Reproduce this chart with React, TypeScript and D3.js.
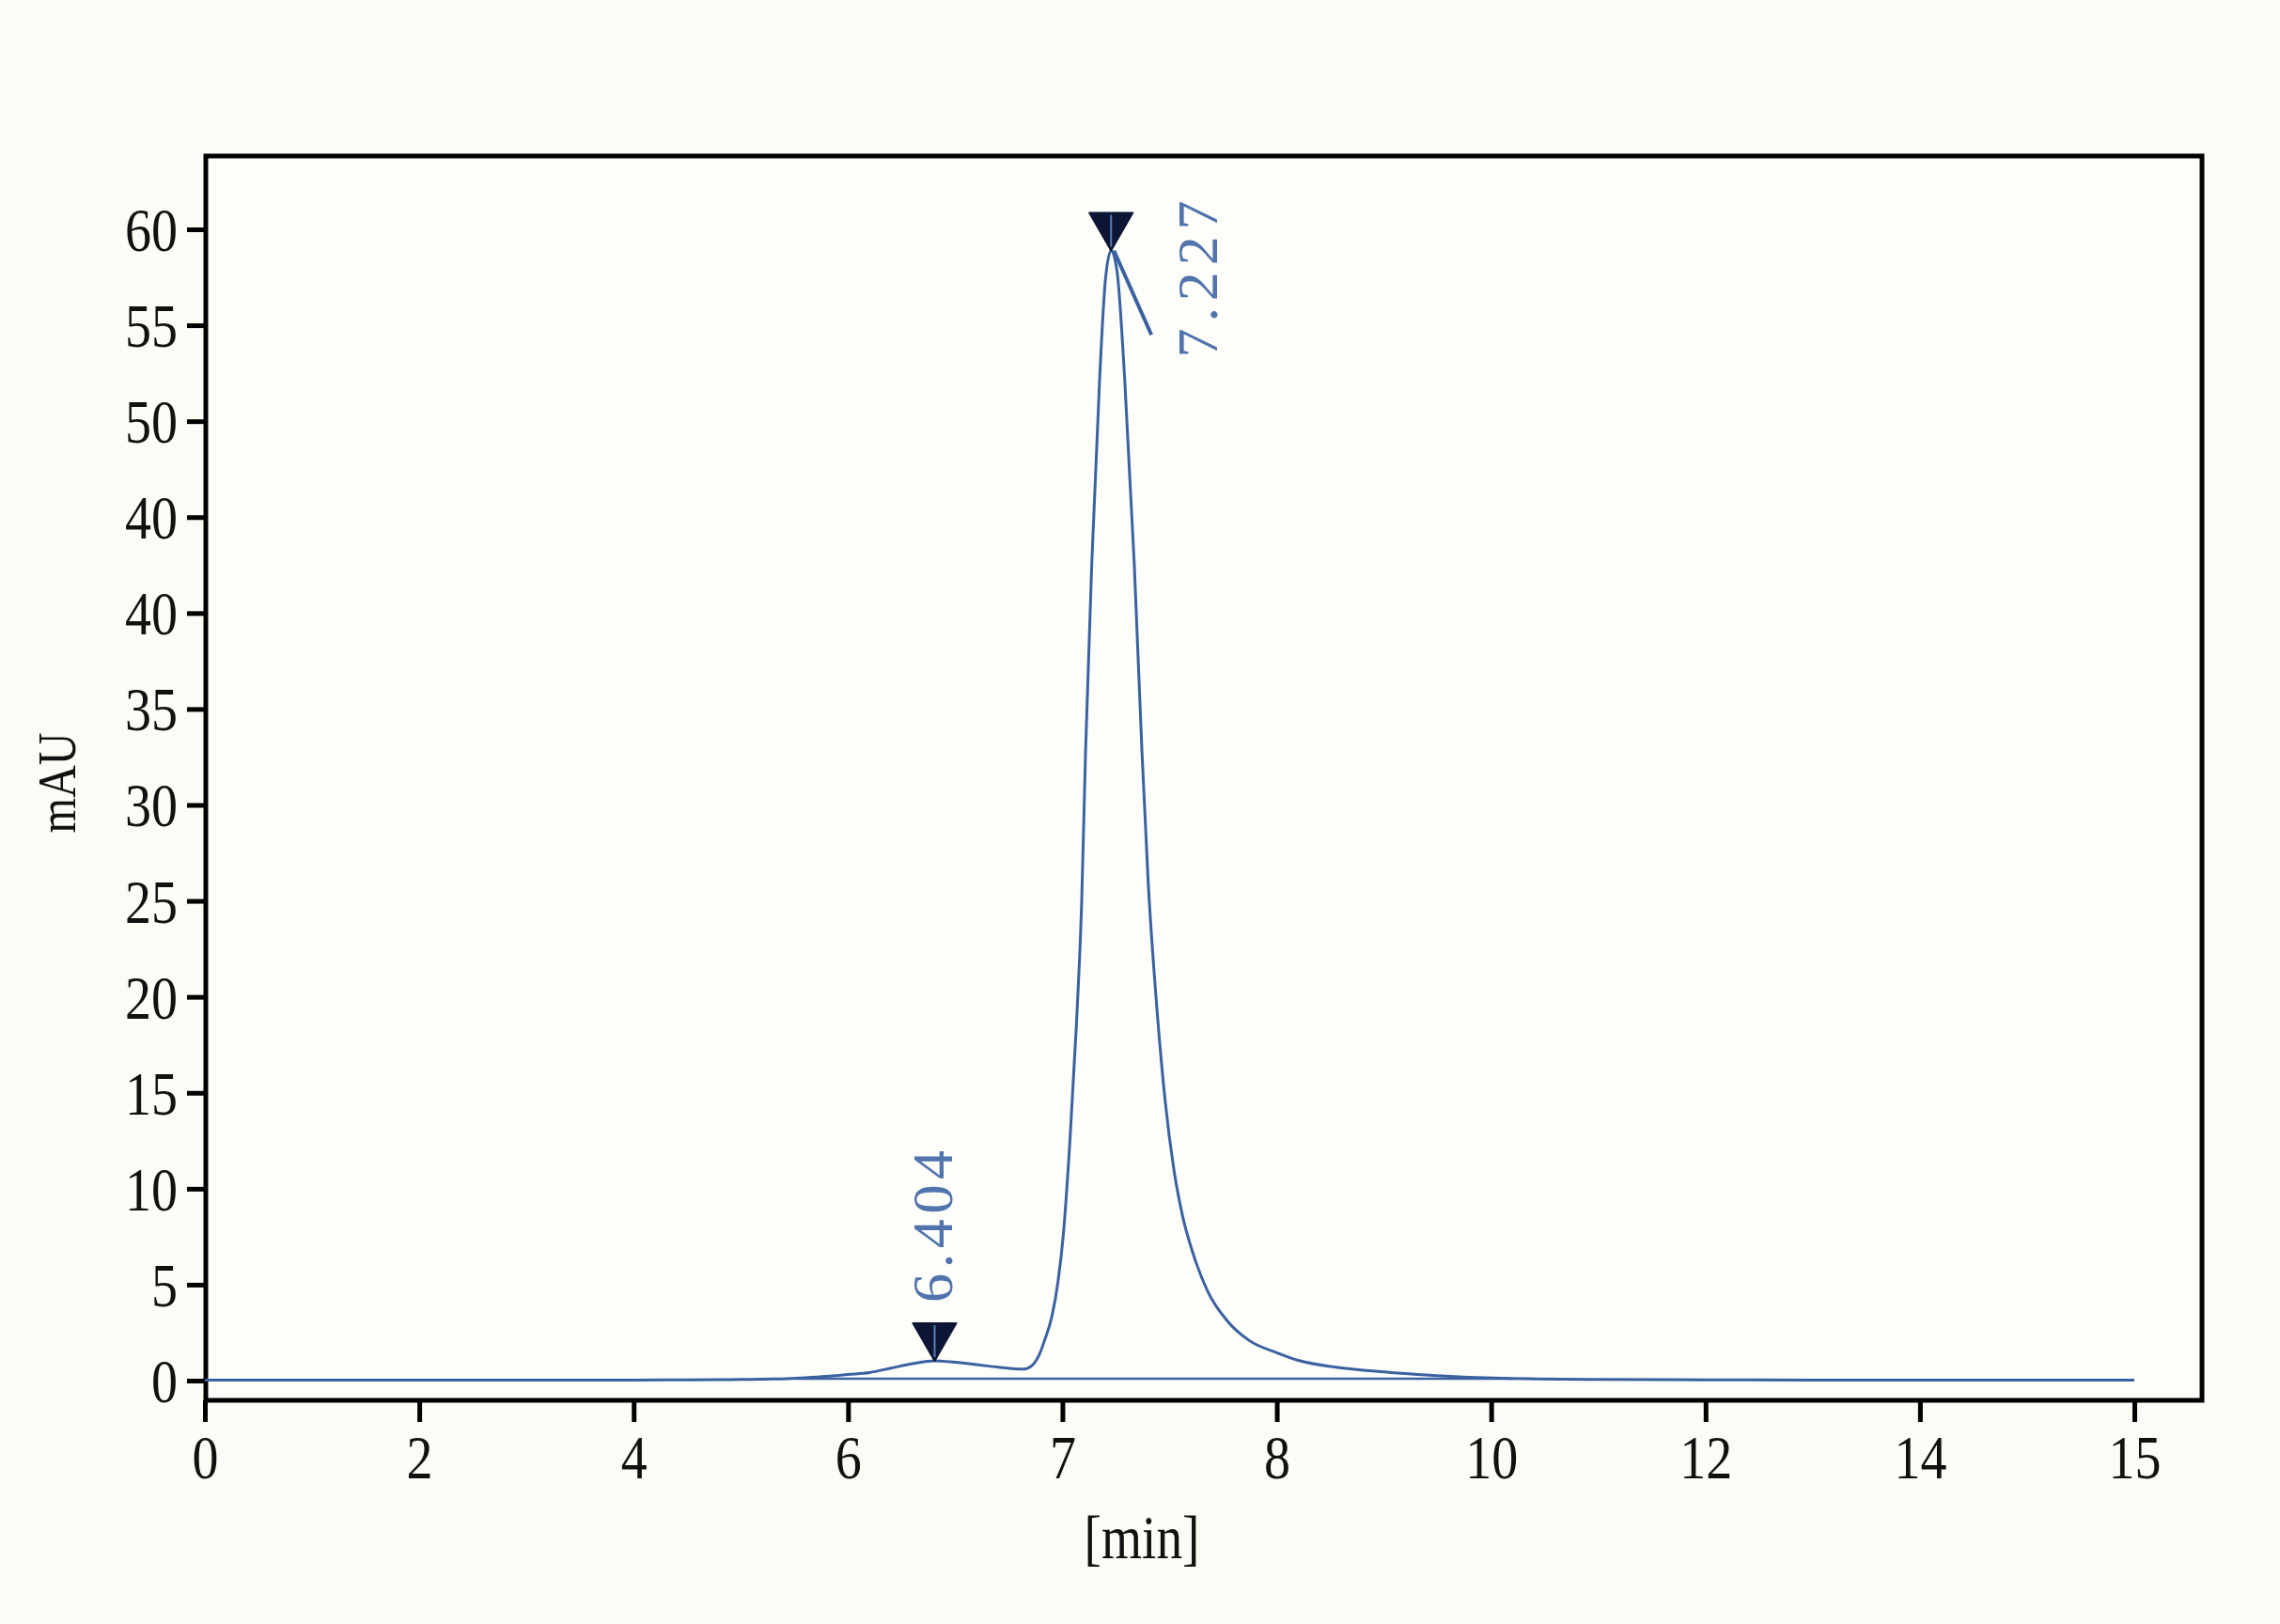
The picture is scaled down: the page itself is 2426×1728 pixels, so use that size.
import { useRef, useEffect } from "react";
import * as d3 from "d3";

// x tick labels are spaced evenly on the original plot even though the values are not
const xTicks = [0, 2, 4, 6, 7, 8, 10, 12, 14, 15];
const yTicks = [0, 5, 10, 15, 20, 25, 30, 35, 40, 45, 50, 55, 60];
const yTickLabels = ["0", "5", "10", "15", "20", "25", "30", "35", "40", "40", "50", "55", "60"];

// chromatogram trace [min, mAU]
const traceTime = [
  0, 1, 2, 3, 4, 4.5, 5, 5.3, 5.6, 5.8, 6.0, 6.1, 6.2, 6.3, 6.404, 6.5, 6.6, 6.7, 6.82,
  6.86, 6.89, 6.92, 6.95, 6.98, 7.005, 7.035, 7.065, 7.09, 7.108, 7.137, 7.174, 7.2, 7.227,
  7.255, 7.29, 7.335, 7.371, 7.4, 7.44, 7.48, 7.52, 7.56, 7.61, 7.68, 7.77, 7.87, 8.0, 8.2,
  8.55, 9.0, 9.43, 10.1, 11, 12, 13, 14, 15,
];
const traceMAU = [
  0.02, 0.02, 0.02, 0.03, 0.03, 0.04, 0.06, 0.08, 0.15, 0.22, 0.32, 0.42, 0.65, 0.88, 1.03, 0.95, 0.83, 0.7, 0.6,
  0.8, 1.3, 2.2, 3.3, 5.2, 7.7, 12.5, 18.5, 25, 32.8, 42.6, 52.3, 57.3, 58.9,
  57.8, 52.3, 42.6, 32.8, 26, 19.5, 14.5, 11, 8.6, 6.6, 4.6, 3.1, 2.1, 1.45, 1.05,
  0.7, 0.45, 0.28, 0.12, 0.06, 0.04, 0.03, 0.03, 0.03,
];

// integration baseline under the peaks
const baseTime = [5.5, 10.2];
const baseMAU = [0.1, 0.1];

// peak markers
const peakLabels = ["6.404", "7.227"];
const peakTime = [6.404, 7.227];
const peakMAU = [1.03, 58.9];

// tangent tick drawn from the main peak apex
const tangentTime = [7.24, 7.415];
const tangentMAU = [58.9, 54.5];

const W = 2426;
const H = 1728;
const X0 = 218;
const X1 = 2271;
const Y0 = 1469;
const Y60 = 244;
const FRAME = { left: 219, right: 2343, top: 166, bottom: 1490 };
const LINE = "#3a61a0";
const LABEL = "#5274ad";
const FONT = "'Liberation Serif', 'Times New Roman', serif";
const DIGIT_W = 28; // the reference digits are narrow
// label offsets from the peak apex (px) and drawn length
const labelOffset = [
  { dx: 19, dy: -62, len: 162 },
  { dx: 113, dy: 114, len: 167 },
];

export default function App() {
  const svgRef = useRef<SVGSVGElement>(null);

  useEffect(() => {
    if (!svgRef.current) return;
    const svg = d3.select(svgRef.current);
    svg.selectAll("*").remove();

    const step = (X1 - X0) / (xTicks.length - 1);
    const x = d3.scaleLinear()
      .domain(xTicks)
      .range(xTicks.map((_, i) => X0 + i * step));
    const y = d3.scaleLinear().domain([0, 60]).range([Y0, Y60]);

    svg.append("rect")
      .attr("width", W).attr("height", H)
      .attr("fill", "#fcfcf7");
    svg.append("rect")
      .attr("x", FRAME.left).attr("y", FRAME.top)
      .attr("width", FRAME.right - FRAME.left)
      .attr("height", FRAME.bottom - FRAME.top)
      .attr("fill", "#fdfdfa");

    // Y axis
    const yAxis = svg.append("g")
      .attr("transform", `translate(${FRAME.left},0)`)
      .call(d3.axisLeft(y).tickValues(yTicks).tickSize(20).tickPadding(10)
        .tickFormat((_, i) => yTickLabels[i]));
    yAxis.select(".domain").remove();
    yAxis.selectAll(".tick line").attr("stroke", "#000").attr("stroke-width", 5);
    yAxis.selectAll<SVGTextElement, number>("text")
      .attr("fill", "#111")
      .attr("font-family", FONT)
      .attr("font-size", 66)
      .attr("dy", "0.34em")
      .attr("textLength", (_, i) => yTickLabels[i].length * DIGIT_W)
      .attr("lengthAdjust", "spacingAndGlyphs");

    // X axis
    const xAxis = svg.append("g")
      .attr("transform", `translate(0,${FRAME.bottom})`)
      .call(d3.axisBottom(x).tickValues(xTicks).tickSize(23).tickPadding(13)
        .tickFormat(d => String(d)));
    xAxis.select(".domain").remove();
    xAxis.selectAll(".tick line").attr("stroke", "#000").attr("stroke-width", 5);
    xAxis.selectAll<SVGTextElement, number>("text")
      .attr("fill", "#111")
      .attr("font-family", FONT)
      .attr("font-size", 66)
      .attr("textLength", d => String(d).length * DIGIT_W)
      .attr("lengthAdjust", "spacingAndGlyphs");

    // frame
    svg.append("rect")
      .attr("x", FRAME.left).attr("y", FRAME.top)
      .attr("width", FRAME.right - FRAME.left)
      .attr("height", FRAME.bottom - FRAME.top)
      .attr("fill", "none")
      .attr("stroke", "#000")
      .attr("stroke-width", 5);

    // axis titles
    svg.append("text")
      .attr("x", 1215).attr("y", 1658)
      .attr("text-anchor", "middle")
      .attr("font-family", FONT)
      .attr("font-size", 66)
      .attr("textLength", 123)
      .attr("lengthAdjust", "spacingAndGlyphs")
      .attr("fill", "#111")
      .text("[min]");
    svg.append("text")
      .attr("transform", "translate(80,833) rotate(-90)")
      .attr("text-anchor", "middle")
      .attr("font-family", FONT)
      .attr("font-size", 56)
      .attr("textLength", 107)
      .attr("lengthAdjust", "spacingAndGlyphs")
      .attr("fill", "#111")
      .text("mAU");

    // integration baseline
    const pair = (t: number[], v: number[]) => t.map((d, i) => [d, v[i]] as [number, number]);
    const straight = d3.line<[number, number]>().x(d => x(d[0])).y(d => y(d[1]));
    svg.append("path")
      .attr("d", straight(pair(baseTime, baseMAU)))
      .attr("fill", "none")
      .attr("stroke", LINE)
      .attr("stroke-width", 2.5);

    // trace
    const trace = d3.line<[number, number]>()
      .x(d => x(d[0]))
      .y(d => y(d[1]))
      .curve(d3.curveMonotoneX);
    svg.append("path")
      .attr("d", trace(pair(traceTime, traceMAU)))
      .attr("fill", "none")
      .attr("stroke", LINE)
      .attr("stroke-width", 3)
      .attr("stroke-linejoin", "round");

    // tangent tick on main peak
    svg.append("path")
      .attr("d", straight(pair(tangentTime, tangentMAU)))
      .attr("stroke", LINE)
      .attr("stroke-width", 4);

    // peak markers + labels
    peakTime.forEach((t, i) => {
      const px = x(t);
      const py = y(peakMAU[i]);
      svg.append("path")
        .attr("d", `M${px - 23},${py - 40}L${px + 23},${py - 40}L${px},${py}Z`)
        .attr("fill", "#0c1634")
        .attr("stroke", "#0c1634")
        .attr("stroke-width", 2)
        .attr("stroke-linejoin", "round");
      svg.append("line")
        .attr("x1", px).attr("x2", px)
        .attr("y1", py - 38).attr("y2", py - 4)
        .attr("stroke", "#5a7db5")
        .attr("stroke-width", 2);
      svg.append("text")
        .attr("transform", `translate(${px + labelOffset[i].dx},${py + labelOffset[i].dy}) rotate(-90)`)
        .attr("font-family", FONT)
        .attr("font-size", 62)
        .attr("textLength", labelOffset[i].len)
        .attr("lengthAdjust", "spacing")
        .attr("fill", LABEL)
        .text(peakLabels[i]);
    });
  }, []);

  return (
    <div>
      <style>{`body{margin:0}`}</style>
      <svg ref={svgRef} width={W} height={H} style={{ display: "block" }} />
    </div>
  );
}
